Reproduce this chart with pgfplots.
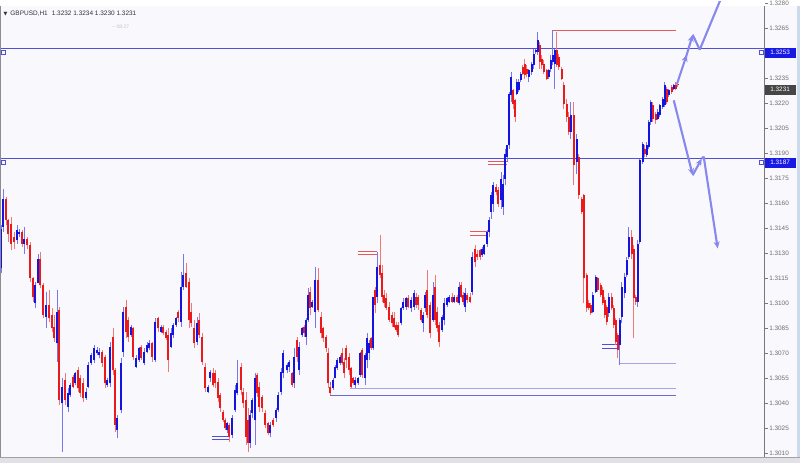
\documentclass[border=0pt]{standalone}
\usepackage{pgfplots}
\pgfplotsset{compat=1.18}
\usepackage{pgfplotstable}
\usepackage{fontspec}
\setmainfont{Liberation Sans}
\newfontfamily\symfont{DejaVu Sans}
\usetikzlibrary{arrows.meta}

\definecolor{bg}{RGB}{248,248,253}
\definecolor{bullbody}{RGB}{20,20,225}
\definecolor{bearbody}{RGB}{235,25,25}
\definecolor{bullwick}{RGB}{120,120,238}
\definecolor{bearwick}{RGB}{242,120,120}
\definecolor{lvl}{RGB}{80,80,215}
\definecolor{lvllight}{RGB}{165,165,230}
\definecolor{lvlred}{RGB}{228,90,90}
\definecolor{arrowc}{RGB}{135,135,238}
\definecolor{labgray}{RGB}{110,110,110}
\definecolor{axgray}{RGB}{120,120,125}
\definecolor{boxblue}{RGB}{25,25,230}
\definecolor{boxgray}{RGB}{70,70,70}
\definecolor{headc}{RGB}{50,50,60}
\definecolor{faint}{RGB}{195,195,200}
\definecolor{bottomc}{RGB}{226,226,230}
\definecolor{bottomline}{RGB}{160,160,165}
\definecolor{stripc}{RGB}{205,218,236}
\definecolor{leftc}{RGB}{140,140,145}

% x = horizontal position on the chart, o h l c = open high low close
\pgfplotstableread{
x o h l c
1 1.3121 1.3147 1.3118 1.3145
3 1.3146 1.3169 1.3143 1.3163
6 1.3163 1.3164 1.3147 1.3150
8 1.3150 1.3151 1.3137 1.3142
11 1.3148 1.3152 1.3132 1.3136
14 1.3140 1.3143 1.3133 1.3137
17 1.3138 1.3147 1.3136 1.3144
19 1.3142 1.3145 1.3140 1.3143
22 1.3143 1.3144 1.3134 1.3136
24 1.3136 1.3146 1.3130 1.3139
27 1.3139 1.3140 1.3133 1.3135
30 1.3135 1.3137 1.3113 1.3115
33 1.3115 1.3116 1.3101 1.3104
35 1.3100 1.3113 1.3097 1.3111
38 1.3112 1.3130 1.3112 1.3127
40 1.3127 1.3131 1.3109 1.3111
43 1.3111 1.3112 1.3091 1.3093
46 1.3092 1.3107 1.3085 1.3099
49 1.3099 1.3108 1.3089 1.3091
52 1.3093 1.3097 1.3083 1.3085
54 1.3086 1.3093 1.3077 1.3079
57 1.3076 1.3108 1.3065 1.3095
59 1.3096 1.3098 1.3039 1.3042
62 1.3040 1.3055 1.3011 1.3050
65 1.3054 1.3058 1.3039 1.3042
68 1.3038 1.3049 1.3035 1.3046
70 1.3045 1.3052 1.3044 1.3051
73 1.3056 1.3057 1.3049 1.3050
75 1.3052 1.3059 1.3051 1.3058
78 1.3060 1.3062 1.3047 1.3049
80 1.3055 1.3057 1.3044 1.3046
83 1.3052 1.3055 1.3041 1.3043
86 1.3043 1.3049 1.3042 1.3047
88 1.3050 1.3065 1.3049 1.3063
91 1.3064 1.3070 1.3063 1.3069
94 1.3066 1.3075 1.3064 1.3073
97 1.3070 1.3074 1.3069 1.3072
99 1.3069 1.3073 1.3067 1.3071
102 1.3071 1.3072 1.3062 1.3064
105 1.3068 1.3069 1.3049 1.3052
107 1.3051 1.3055 1.3050 1.3054
110 1.3052 1.3077 1.3050 1.3074
113 1.3080 1.3085 1.3057 1.3060
115 1.3060 1.3061 1.3023 1.3027
117 1.3024 1.3033 1.3019 1.3031
121 1.3036 1.3067 1.3034 1.3064
123 1.3071 1.3098 1.3068 1.3095
126 1.3098 1.3102 1.3079 1.3083
128 1.3090 1.3092 1.3077 1.3080
131 1.3081 1.3087 1.3080 1.3086
133 1.3085 1.3086 1.3066 1.3068
136 1.3062 1.3069 1.3061 1.3067
139 1.3066 1.3074 1.3065 1.3073
141 1.3074 1.3075 1.3066 1.3067
144 1.3064 1.3073 1.3063 1.3071
147 1.3071 1.3077 1.3070 1.3075
149 1.3073 1.3078 1.3072 1.3076
152 1.3076 1.3077 1.3065 1.3068
155 1.3066 1.3091 1.3065 1.3089
158 1.3091 1.3092 1.3083 1.3085
161 1.3083 1.3087 1.3082 1.3086
163 1.3086 1.3087 1.3081 1.3082
166 1.3083 1.3084 1.3078 1.3079
168 1.3081 1.3085 1.3059 1.3066
171 1.3074 1.3085 1.3073 1.3082
173 1.3081 1.3088 1.3079 1.3087
176 1.3087 1.3092 1.3086 1.3091
178 1.3095 1.3096 1.3089 1.3091
181 1.3089 1.3119 1.3086 1.3110
183 1.3110 1.3130 1.3108 1.3117
186 1.3118 1.3124 1.3109 1.3110
189 1.3113 1.3115 1.3085 1.3090
191 1.3095 1.3100 1.3086 1.3088
194 1.3085 1.3090 1.3073 1.3076
197 1.3077 1.3092 1.3075 1.3088
199 1.3090 1.3094 1.3079 1.3081
202 1.3080 1.3082 1.3063 1.3065
205 1.3062 1.3064 1.3047 1.3049
208 1.3047 1.3051 1.3046 1.3050
210 1.3055 1.3060 1.3053 1.3059
213 1.3058 1.3061 1.3050 1.3051
215 1.3058 1.3060 1.3049 1.3052
218 1.3053 1.3055 1.3041 1.3043
220 1.3045 1.3046 1.3035 1.3037
223 1.3035 1.3036 1.3029 1.3030
225 1.3030 1.3031 1.3024 1.3025
227 1.3024 1.3029 1.3022 1.3028
229 1.3027 1.3028 1.3017 1.3020
232 1.3021 1.3033 1.3019 1.3031
235 1.3036 1.3051 1.3035 1.3048
237 1.3046 1.3066 1.3045 1.3052
241 1.3062 1.3064 1.3045 1.3048
243 1.3047 1.3049 1.3037 1.3040
246 1.3042 1.3047 1.3015 1.3020
248 1.3030 1.3037 1.3011 1.3016
250 1.3016 1.3036 1.3013 1.3033
252 1.3034 1.3043 1.3031 1.3042
255 1.3030 1.3058 1.3015 1.3055
257 1.3057 1.3058 1.3044 1.3046
259 1.3050 1.3053 1.3035 1.3038
262 1.3044 1.3045 1.3035 1.3037
265 1.3034 1.3036 1.3025 1.3027
268 1.3028 1.3029 1.3021 1.3022
270 1.3022 1.3029 1.3020 1.3027
273 1.3030 1.3031 1.3026 1.3027
276 1.3031 1.3037 1.3029 1.3036
278 1.3036 1.3047 1.3035 1.3045
281 1.3047 1.3061 1.3045 1.3059
283 1.3058 1.3072 1.3055 1.3070
287 1.3060 1.3064 1.3058 1.3063
289 1.3062 1.3066 1.3059 1.3065
292 1.3058 1.3059 1.3050 1.3051
294 1.3052 1.3073 1.3049 1.3068
297 1.3078 1.3080 1.3065 1.3068
299 1.3060 1.3077 1.3057 1.3074
302 1.3081 1.3086 1.3080 1.3085
304 1.3086 1.3087 1.3080 1.3082
306 1.3080 1.3091 1.3075 1.3090
308 1.3090 1.3109 1.3089 1.3105
310 1.3107 1.3110 1.3093 1.3097
312 1.3098 1.3102 1.3097 1.3101
315 1.3095 1.3122 1.3085 1.3114
318 1.3114 1.3121 1.3095 1.3096
321 1.3092 1.3095 1.3079 1.3082
323 1.3085 1.3086 1.3077 1.3079
326 1.3080 1.3081 1.3071 1.3073
328 1.3070 1.3073 1.3049 1.3052
330 1.3050 1.3051 1.3045 1.3046
333 1.3049 1.3055 1.3048 1.3054
335 1.3055 1.3063 1.3055 1.3062
337 1.3061 1.3067 1.3060 1.3066
340 1.3064 1.3069 1.3063 1.3068
342 1.3070 1.3073 1.3063 1.3064
344 1.3065 1.3067 1.3055 1.3058
346 1.3073 1.3075 1.3061 1.3066
349 1.3068 1.3070 1.3057 1.3060
351 1.3061 1.3062 1.3049 1.3050
353 1.3055 1.3056 1.3051 1.3052
355 1.3051 1.3056 1.3049 1.3054
358 1.3052 1.3056 1.3051 1.3055
360 1.3057 1.3071 1.3056 1.3070
362 1.3072 1.3073 1.3055 1.3057
365 1.3055 1.3070 1.3051 1.3069
367 1.3066 1.3082 1.3061 1.3079
369 1.3070 1.3078 1.3066 1.3076
371 1.3079 1.3080 1.3072 1.3073
373 1.3073 1.3104 1.3072 1.3104
375 1.3108 1.3110 1.3094 1.3099
377 1.3104 1.3131 1.3100 1.3122
380 1.3123 1.3141 1.3115 1.3117
382 1.3118 1.3123 1.3101 1.3104
384 1.3105 1.3108 1.3098 1.3100
386 1.3103 1.3106 1.3096 1.3097
389 1.3098 1.3101 1.3089 1.3090
392 1.3093 1.3095 1.3086 1.3088
394 1.3091 1.3095 1.3085 1.3086
396 1.3087 1.3089 1.3083 1.3084
398 1.3087 1.3089 1.3080 1.3081
401 1.3088 1.3098 1.3087 1.3097
403 1.3097 1.3103 1.3096 1.3101
406 1.3098 1.3104 1.3096 1.3103
408 1.3103 1.3105 1.3097 1.3098
411 1.3097 1.3104 1.3095 1.3102
414 1.3098 1.3108 1.3096 1.3106
416 1.3104 1.3106 1.3097 1.3099
418 1.3104 1.3105 1.3096 1.3099
421 1.3096 1.3097 1.3089 1.3090
423 1.3088 1.3095 1.3083 1.3093
425 1.3097 1.3107 1.3095 1.3105
427 1.3108 1.3120 1.3091 1.3093
430 1.3099 1.3101 1.3079 1.3082
433 1.3090 1.3113 1.3089 1.3105
435 1.3110 1.3117 1.3087 1.3090
437 1.3095 1.3098 1.3083 1.3085
439 1.3087 1.3089 1.3074 1.3077
442 1.3084 1.3093 1.3083 1.3092
444 1.3090 1.3103 1.3087 1.3100
447 1.3099 1.3104 1.3098 1.3103
449 1.3101 1.3105 1.3100 1.3104
452 1.3104 1.3106 1.3100 1.3101
454 1.3101 1.3105 1.3100 1.3104
457 1.3104 1.3105 1.3100 1.3101
459 1.3100 1.3113 1.3099 1.3110
461 1.3111 1.3113 1.3103 1.3104
463 1.3105 1.3107 1.3099 1.3101
465 1.3098 1.3109 1.3095 1.3106
467 1.3105 1.3106 1.3100 1.3102
470 1.3104 1.3106 1.3100 1.3101
472 1.3107 1.3131 1.3105 1.3128
475 1.3133 1.3135 1.3122 1.3125
477 1.3130 1.3132 1.3126 1.3128
480 1.3132 1.3133 1.3126 1.3128
482 1.3129 1.3134 1.3128 1.3133
484 1.3130 1.3136 1.3129 1.3135
487 1.3136 1.3144 1.3134 1.3143
489 1.3143 1.3152 1.3140 1.3150
491 1.3155 1.3167 1.3151 1.3165
493 1.3160 1.3173 1.3155 1.3171
496 1.3170 1.3172 1.3165 1.3167
498 1.3168 1.3170 1.3158 1.3160
501 1.3162 1.3179 1.3157 1.3175
503 1.3158 1.3177 1.3153 1.3172
505 1.3175 1.3193 1.3171 1.3190
507 1.3188 1.3195 1.3185 1.3195
509 1.3195 1.3227 1.3193 1.3226
511 1.3225 1.3239 1.3221 1.3236
513 1.3228 1.3229 1.3217 1.3220
515 1.3222 1.3223 1.3209 1.3212
517 1.3226 1.3235 1.3225 1.3233
519 1.3228 1.3235 1.3227 1.3233
521 1.3234 1.3239 1.3233 1.3238
523 1.3242 1.3243 1.3237 1.3238
525 1.3244 1.3247 1.3235 1.3237
527 1.3241 1.3243 1.3236 1.3238
529 1.3236 1.3241 1.3233 1.3240
532 1.3239 1.3245 1.3237 1.3244
534 1.3243 1.3253 1.3241 1.3250
536 1.3251 1.3253 1.3250 1.3252
538 1.3251 1.3263 1.3249 1.3258
540 1.3255 1.3257 1.3241 1.3245
542 1.3247 1.3249 1.3241 1.3243
544 1.3244 1.3246 1.3238 1.3239
547 1.3240 1.3241 1.3234 1.3235
549 1.3236 1.3241 1.3235 1.3240
551 1.3241 1.3249 1.3239 1.3246
553 1.3245 1.3264 1.3243 1.3249
555 1.3244 1.3253 1.3229 1.3252
557 1.3252 1.3263 1.3242 1.3243
559 1.3248 1.3250 1.3240 1.3242
562 1.3241 1.3242 1.3234 1.3235
564 1.3231 1.3233 1.3217 1.3220
567 1.3220 1.3223 1.3209 1.3212
569 1.3212 1.3215 1.3201 1.3203
571 1.3203 1.3221 1.3199 1.3213
574 1.3213 1.3221 1.3171 1.3183
577 1.3185 1.3202 1.3178 1.3199
579 1.3188 1.3190 1.3163 1.3165
582 1.3163 1.3164 1.3154 1.3155
584 1.3165 1.3166 1.3100 1.3115
587 1.3117 1.3118 1.3095 1.3097
589 1.3100 1.3102 1.3096 1.3097
591 1.3099 1.3100 1.3093 1.3094
593 1.3095 1.3107 1.3094 1.3105
596 1.3107 1.3117 1.3106 1.3116
598 1.3115 1.3116 1.3107 1.3108
601 1.3111 1.3112 1.3104 1.3105
603 1.3108 1.3110 1.3099 1.3100
605 1.3102 1.3104 1.3091 1.3093
607 1.3098 1.3099 1.3087 1.3089
609 1.3094 1.3106 1.3092 1.3104
612 1.3104 1.3106 1.3096 1.3097
614 1.3097 1.3099 1.3085 1.3087
616 1.3090 1.3091 1.3075 1.3077
618 1.3081 1.3082 1.3067 1.3072
620 1.3075 1.3091 1.3063 1.3090
622 1.3092 1.3113 1.3088 1.3110
625 1.3106 1.3118 1.3103 1.3116
627 1.3117 1.3128 1.3116 1.3126
629 1.3128 1.3146 1.3127 1.3140
632 1.3140 1.3144 1.3127 1.3130
634 1.3133 1.3135 1.3079 1.3103
636 1.3104 1.3105 1.3099 1.3101
638 1.3101 1.3138 1.3098 1.3136
640 1.3137 1.3187 1.3136 1.3186
643 1.3185 1.3197 1.3184 1.3196
645 1.3193 1.3195 1.3188 1.3190
647 1.3189 1.3197 1.3188 1.3195
649 1.3194 1.3210 1.3193 1.3209
651 1.3209 1.3222 1.3207 1.3221
653 1.3219 1.3221 1.3209 1.3211
656 1.3214 1.3215 1.3208 1.3210
658 1.3211 1.3217 1.3210 1.3215
660 1.3213 1.3220 1.3212 1.3219
663 1.3218 1.3224 1.3217 1.3223
665 1.3219 1.3233 1.3218 1.3231
667 1.3229 1.3230 1.3220 1.3221
669 1.3225 1.3229 1.3224 1.3228
672 1.3230 1.3231 1.3226 1.3227
674 1.3229 1.3232 1.3228 1.3231
676 1.3231 1.3233 1.3228 1.3229
678 1.3232 1.3234 1.3230 1.3231
}\candles

\begin{document}
\begin{tikzpicture}[x=1bp,y=1bp]
\fill[bg] (0,0) rectangle (800,458);
\begin{axis}[at={(0,6)}, anchor=south west, scale only axis,
  width=765bp, height=452bp,
  xmin=0, xmax=765, ymin=1.3010, ymax=1.32812,
  axis line style={draw=none}, xtick=\empty,
  ytick={1.3010,1.3025,1.3040,1.3055,1.3070,1.3085,1.3100,1.3115,1.3130,1.3145,1.3160,1.3175,1.3190,1.3205,1.3220,1.3235,1.3250,1.3265,1.3280},
  ytick pos=right, yticklabel pos=right, tick align=outside,
  major tick length=3bp, tick style={axgray, line width=0.6bp},
  yticklabel={\pgfmathprintnumber[fixed,fixed zerofill,precision=4,assume math mode=true]{\tick}},
  yticklabel style={font=\fontsize{6.4}{7}\selectfont, text=labgray, inner sep=1.5bp},
  restrict y to domain=1.2:1.4,
]
% levels
\addplot[lvl, line width=0.9bp] coordinates {(0,1.3253) (765,1.3253)};
\addplot[lvl, line width=0.9bp] coordinates {(0,1.3187) (765,1.3187)};
\addplot[lvlred, line width=0.8bp] coordinates {(553,1.3264) (676,1.3264)};
\addplot[lvllight, line width=0.8bp] coordinates {(350,1.3049) (676,1.3049)};
\addplot[lvl!85, line width=0.8bp] coordinates {(330,1.3053) (330,1.3045) (676,1.3045)};
\addplot[lvllight, line width=0.8bp] coordinates {(620,1.3074) (620,1.3064) (676,1.3064)};
% price marks
\addplot[lvlred, line width=0.5bp] coordinates {(488,1.31852) (507,1.31852)};
\addplot[lvlred, line width=0.5bp] coordinates {(488,1.31834) (507,1.31834)};
\addplot[lvlred, line width=0.5bp] coordinates {(470,1.31432) (488,1.31432)};
\addplot[lvlred, line width=0.5bp] coordinates {(470,1.31408) (488,1.31408)};
\addplot[lvlred, line width=0.5bp] coordinates {(358,1.31312) (377,1.31312)};
\addplot[lvlred, line width=0.5bp] coordinates {(358,1.31294) (377,1.31294)};
\addplot[lvl, line width=0.5bp] coordinates {(212,1.30202) (230,1.30202)};
\addplot[lvl, line width=0.5bp] coordinates {(212,1.30184) (230,1.30184)};
\addplot[lvl, line width=0.5bp] coordinates {(602,1.30754) (620,1.30754)};
\addplot[lvl, line width=0.5bp] coordinates {(602,1.30730) (620,1.30730)};
% wicks
\addplot[draw=none, mark=none, error bars/.cd, y dir=plus, y explicit, error mark=none,
  error bar style={draw=bullwick, line width=0.8bp}]
  table[x=x, y expr={ifthenelse(\thisrow{c}>=\thisrow{o},\thisrow{l},5)}, y error expr={\thisrow{h}-\thisrow{l}}] {\candles};
\addplot[draw=none, mark=none, error bars/.cd, y dir=plus, y explicit, error mark=none,
  error bar style={draw=bearwick, line width=0.8bp}]
  table[x=x, y expr={ifthenelse(\thisrow{c}<\thisrow{o},\thisrow{l},5)}, y error expr={\thisrow{h}-\thisrow{l}}] {\candles};
% bodies
\addplot[draw=none, mark=none, error bars/.cd, y dir=plus, y explicit, error mark=none,
  error bar style={draw=bullbody, line width=2.2bp}]
  table[x=x, y expr={ifthenelse(\thisrow{c}>=\thisrow{o},\thisrow{o},5)}, y error expr={max(\thisrow{c}-\thisrow{o},0.00005)}] {\candles};
\addplot[draw=none, mark=none, error bars/.cd, y dir=plus, y explicit, error mark=none,
  error bar style={draw=bearbody, line width=2.2bp}]
  table[x=x, y expr={ifthenelse(\thisrow{c}<\thisrow{o},\thisrow{c},5)}, y error expr={max(\thisrow{o}-\thisrow{c},0.00005)}] {\candles};
% projected paths
\addplot[arrowc, line width=2.1bp, -{Stealth[length=7bp,width=6bp]}] coordinates {(677,1.32314) (687,1.32494)};
\addplot[arrowc, line width=2.1bp, -{Stealth[length=7bp,width=6bp]}] coordinates {(686,1.32474) (693,1.32614)};
\addplot[arrowc, line width=2.1bp] coordinates {(693,1.32614) (700,1.32524)};
\addplot[arrowc, line width=2.1bp] coordinates {(700,1.32524) (726,1.3290)};
\addplot[arrowc, line width=2.1bp, -{Stealth[length=7bp,width=6bp]}] coordinates {(674,1.3222) (693,1.3177)};
\addplot[arrowc, line width=2.1bp, -{Stealth[length=7bp,width=6bp]}] coordinates {(693,1.3177) (702,1.31870)};
\addplot[arrowc, line width=2.1bp] coordinates {(702,1.31870) (704,1.31882)};
\addplot[arrowc, line width=2.1bp, -{Stealth[length=7bp,width=6bp]}] coordinates {(704,1.31882) (718,1.31330)};
\end{axis}
\begin{scope}[shift={(0,458)}, y=-1bp]
\draw[axgray, line width=0.8bp] (765,0) -- (765,452);
\fill[boxblue] (765,42) rectangle (796,52);
\node[text=white, font=\fontsize{6.4}{7}\selectfont, inner sep=0] at (780.5,47) {1.3253};
\fill[boxblue] (765,152) rectangle (796,162);
\node[text=white, font=\fontsize{6.4}{7}\selectfont, inner sep=0] at (780.5,157) {1.3187};
\fill[boxgray] (765,79) rectangle (796,89);
\node[text=white, font=\fontsize{6.4}{7}\selectfont, inner sep=0] at (780.5,84) {1.3231};
\draw[lvl, line width=0.6bp, fill=bg] (1,45) rectangle (5,49);
\draw[lvl, line width=0.6bp, fill=bg] (1,155) rectangle (5,159);
\draw[lvl, line width=0.6bp, fill=bg] (760,45) rectangle (764,49);
\draw[lvl, line width=0.6bp, fill=bg] (760,155) rectangle (764,159);
\node[anchor=west, inner sep=0, text=headc, font=\fontsize{6.5}{7}\selectfont] at (3,8)
  {{\symfont\fontsize{5}{6}\selectfont ▼}\hspace{3bp}GBPUSD,H1\hspace{4bp}1.3232 1.3234 1.3230 1.3231};
\node[anchor=west, inner sep=0, text=faint, font=\fontsize{5}{6}\selectfont] at (112,21) {-- 08:27};
\fill[bottomc] (0,452) rectangle (800,458);
\draw[bottomline, line width=0.8bp] (0,452.4) -- (800,452.4);
\fill[stripc] (797,0) rectangle (800,452);
\draw[leftc, line width=1bp] (0.5,0) -- (0.5,452);
\end{scope}
\end{tikzpicture}
\end{document}
